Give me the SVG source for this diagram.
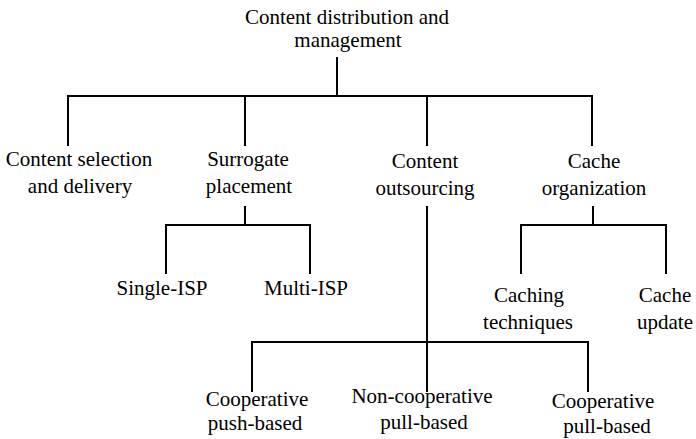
<svg xmlns="http://www.w3.org/2000/svg" width="696" height="439" viewBox="0 0 696 439">
  <style>
    .lbl { font-family: "Times New Roman", "Liberation Serif", Tinos, "DejaVu Serif", serif; font-size: 21px; fill: #000; text-anchor: middle; }
    .link { stroke: #000; stroke-width: 2; fill: none; stroke-linecap: square; }
  </style>
  <rect width="696" height="439" fill="#fff"/>

  <!-- tree connectors -->
  <g id="connectors" class="link">
    <!-- root to first level -->
    <path d="M337,58 V96 M68,96 H592 M68,96 V145 M245,96 V145 M427,96 V145 M592,96 V145"/>
    <!-- surrogate placement -->
    <path d="M245,207 V225 M166,225 H310 M166,225 V273 M310,225 V273"/>
    <!-- cache organization -->
    <path d="M593,207 V225 M521,225 H666 M521,225 V273 M666,225 V273"/>
    <!-- content outsourcing -->
    <path d="M427,207 V342 M252,342 H588 M252,342 V391 M427,342 V391 M588,342 V391"/>
  </g>

  <g id="root">
    <text class="lbl" x="347" y="24">Content distribution and</text>
    <text class="lbl" x="348" y="47">management</text>
  </g>
  <g id="content-selection">
    <text class="lbl" x="79" y="166">Content selection</text>
    <text class="lbl" x="80" y="193">and delivery</text>
  </g>
  <g id="surrogate-placement">
    <text class="lbl" x="248" y="166">Surrogate</text>
    <text class="lbl" x="249" y="193">placement</text>
  </g>
  <g id="content-outsourcing">
    <text class="lbl" x="425" y="168">Content</text>
    <text class="lbl" x="425" y="195">outsourcing</text>
  </g>
  <g id="cache-organization">
    <text class="lbl" x="594" y="168">Cache</text>
    <text class="lbl" x="594" y="195">organization</text>
  </g>
  <g id="single-isp">
    <text class="lbl" x="162" y="295">Single-ISP</text>
  </g>
  <g id="multi-isp">
    <text class="lbl" x="306" y="295">Multi-ISP</text>
  </g>
  <g id="caching-techniques">
    <text class="lbl" x="529" y="302">Caching</text>
    <text class="lbl" x="528" y="329">techniques</text>
  </g>
  <g id="cache-update">
    <text class="lbl" x="665" y="302">Cache</text>
    <text class="lbl" x="665" y="329">update</text>
  </g>
  <g id="coop-push">
    <text class="lbl" x="257" y="406">Cooperative</text>
    <text class="lbl" x="255" y="430">push-based</text>
  </g>
  <g id="noncoop-pull">
    <text class="lbl" x="422" y="403">Non-cooperative</text>
    <text class="lbl" x="424" y="429">pull-based</text>
  </g>
  <g id="coop-pull">
    <text class="lbl" x="603" y="408">Cooperative</text>
    <text class="lbl" x="607" y="433">pull-based</text>
  </g>
</svg>
